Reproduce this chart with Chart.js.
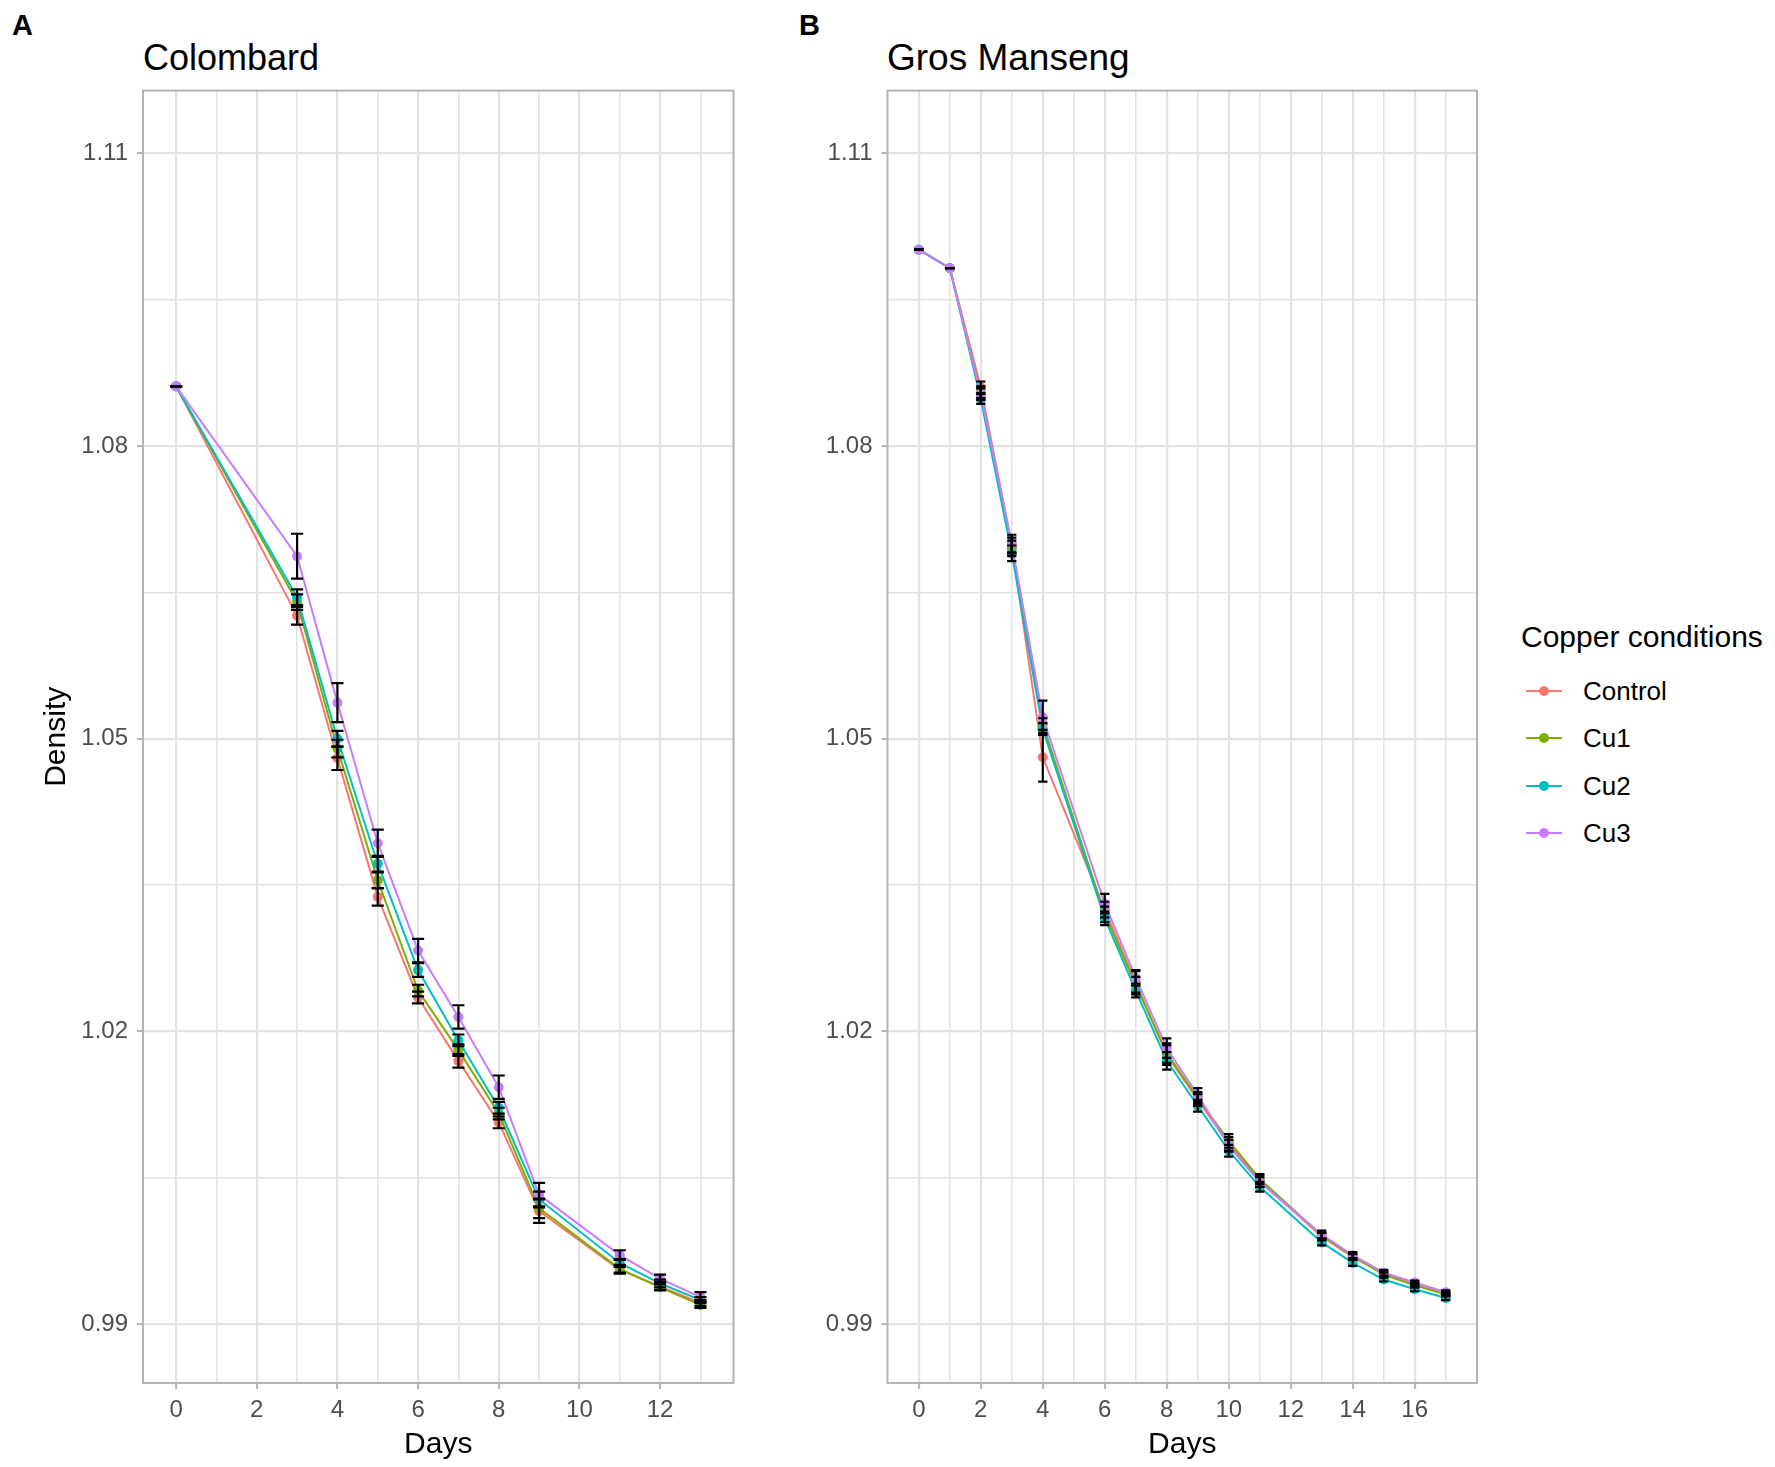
<!DOCTYPE html>
<html>
<head>
<meta charset="utf-8">
<script src="https://cdn.jsdelivr.net/npm/chart.js@4.4.1/dist/chart.umd.min.js"></script>
<style>
  html, body { margin: 0; padding: 0; background: #fff; }
  body { width: 1775px; height: 1467px; position: relative; overflow: hidden;
         font-family: "Liberation Sans", Arial, sans-serif; color: #000; }
  .box { position: absolute; top: 0; height: 1467px; }
  .tag { position: absolute; font-weight: bold; font-size: 29px; line-height: 29px; }
  .ttl { position: absolute; font-size: 36px; line-height: 36px; white-space: nowrap; }
  #legendTitle { position: absolute; left: 1521px; top: 622px; font-size: 30px; line-height: 30px; white-space: nowrap; }
  .item { position: absolute; left: 1526px; height: 40px; display: flex; align-items: center; }
  .sym { position: relative; width: 36px; height: 2px; }
  .dot { position: absolute; left: 13px; top: -4px; width: 10px; height: 10px; border-radius: 50%; }
  .lab { margin-left: 21px; font-size: 26px; line-height: 26px; white-space: nowrap; }
</style>
</head>
<body>
<div class="tag" style="left:12px; top:11px;">A</div>
<div class="tag" style="left:799px; top:11px;">B</div>
<div class="ttl" style="left:143px; top:40px;">Colombard</div>
<div class="ttl" style="left:887px; top:40px; font-size:37px;">Gros Manseng</div>

<div class="box" style="left:0; width:760px;"><canvas id="chartA"></canvas></div>
<div class="box" style="left:760px; width:740px;"><canvas id="chartB"></canvas></div>

<div id="legendTitle">Copper conditions</div>
<div id="legend"></div>

<script>
// series
var seriesNames = ['Control', 'Cu1', 'Cu2', 'Cu3'];
var seriesColors = ['#F8766D', '#7CAE00', '#00BFC4', '#C77CFF'];

// Colombard
var daysA = [0, 3, 4, 5, 6, 7, 8, 9, 11, 12, 13];
var controlA = [1.0861, 1.0626, 1.0480, 1.0338, 1.0235, 1.0170, 1.0107, 1.0016, 0.9956, 0.9939, 0.9922];
var cu1A     = [1.0861, 1.0640, 1.0490, 1.0355, 1.0242, 1.0181, 1.0116, 1.0019, 0.9957, 0.9938, 0.9920];
var cu2A     = [1.0861, 1.0645, 1.0500, 1.0372, 1.0263, 1.0191, 1.0122, 1.0028, 0.9963, 0.9942, 0.9925];
var cu3A     = [1.0861, 1.0687, 1.0537, 1.0393, 1.0283, 1.0215, 1.0143, 1.0033, 0.9971, 0.9947, 0.9928];
var sdControlA = [0, 0.0009, 0.0012, 0.0009, 0.0006, 0.0007, 0.0006, 0.0012, 0.0004, 0.0004, 0.0003];
var sdCu1A     = [0, 0.0008, 0.0009, 0.0008, 0.0006, 0.0006, 0.0006, 0.0010, 0.0004, 0.0003, 0.0003];
var sdCu2A     = [0, 0.0008, 0.0008, 0.0008, 0.0007, 0.0006, 0.0006, 0.0008, 0.0004, 0.0004, 0.0003];
var sdCu3A     = [0, 0.0023, 0.0020, 0.0014, 0.0012, 0.0012, 0.0012, 0.0012, 0.0005, 0.0004, 0.0005];

// Gros Manseng
var daysB = [0, 1, 2, 3, 4, 6, 7, 8, 9, 10, 11, 13, 14, 15, 16, 17];
var controlB = [1.1001, 1.0982, 1.0860, 1.0698, 1.0481, 1.0325, 1.0250, 1.0176, 1.0130, 1.0085, 1.0047, 0.9990, 0.9969, 0.9952, 0.9941, 0.9931];
var cu1B     = [1.1001, 1.0982, 1.0855, 1.0695, 1.0515, 1.0320, 1.0248, 1.0178, 1.0132, 1.0088, 1.0049, 0.9991, 0.9970, 0.9951, 0.9940, 0.9931];
var cu2B     = [1.1001, 1.0982, 1.0848, 1.0690, 1.0510, 1.0316, 1.0242, 1.0170, 1.0124, 1.0078, 1.0041, 0.9984, 0.9963, 0.9946, 0.9936, 0.9927];
var cu3B     = [1.1001, 1.0982, 1.0853, 1.0700, 1.0522, 1.0331, 1.0255, 1.0183, 1.0135, 1.0083, 1.0046, 0.9992, 0.9971, 0.9953, 0.9943, 0.9933];
var sdControlB = [0, 0, 0.0006, 0.0008, 0.0025, 0.0008, 0.0012, 0.0010, 0.0006, 0.0007, 0.0006, 0.0004, 0.0003, 0.0003, 0.0002, 0.0002];
var sdCu1B     = [0, 0, 0.0006, 0.0008, 0.0006, 0.0008, 0.0008, 0.0010, 0.0006, 0.0007, 0.0005, 0.0003, 0.0003, 0.0002, 0.0002, 0.0002];
var sdCu2B     = [0, 0, 0.0005, 0.0008, 0.0006, 0.0007, 0.0007, 0.0009, 0.0006, 0.0006, 0.0005, 0.0003, 0.0003, 0.0002, 0.0002, 0.0002];
var sdCu3B     = [0, 0, 0.0006, 0.0009, 0.0017, 0.0010, 0.0008, 0.0010, 0.0007, 0.0006, 0.0005, 0.0004, 0.0003, 0.0003, 0.0002, 0.0002];

// ticks
var yMajor = [0.99, 1.02, 1.05, 1.08, 1.11];
var yMinor = [1.005, 1.035, 1.065, 1.095];
var xMajorA = [0, 2, 4, 6, 8, 10, 12];
var xMinorA = [1, 3, 5, 7, 9, 11, 13];
var xMajorB = [0, 2, 4, 6, 8, 10, 12, 14, 16];
var xMinorB = [1, 3, 5, 7, 9, 11, 13, 15, 17];

var FONT = '"Liberation Sans", Arial, sans-serif';
var GRID = '#E2E2E2';
var FRAME = '#B3B3B3';

// black error bars, drawn over the points like geom_errorbar
var errorBars = {
  id: 'errorBars',
  afterDatasetsDraw: function(chart, args, opts) {
    var ctx = chart.ctx, x = chart.scales.x, y = chart.scales.y;
    var half = opts.width / 2;
    ctx.save();
    ctx.strokeStyle = '#000';
    ctx.lineWidth = 2.2;
    chart.data.datasets.forEach(function(ds) {
      ds.data.forEach(function(p, j) {
        var sd = ds.sd[j];
        var px = x.getPixelForValue(p.x);
        var l = x.getPixelForValue(p.x - half), r = x.getPixelForValue(p.x + half);
        var lo = y.getPixelForValue(p.y - sd), hi = y.getPixelForValue(p.y + sd);
        ctx.beginPath();
        ctx.moveTo(px, lo); ctx.lineTo(px, hi);
        ctx.moveTo(l, lo); ctx.lineTo(r, lo);
        ctx.moveTo(l, hi); ctx.lineTo(r, hi);
        ctx.stroke();
      });
    });
    ctx.restore();
  }
};

// grey panel border all round
var frame = {
  id: 'frame',
  afterDraw: function(chart) {
    var a = chart.chartArea, ctx = chart.ctx;
    ctx.save();
    ctx.strokeStyle = FRAME;
    ctx.lineWidth = 2;
    ctx.strokeRect(a.left, a.top, a.right - a.left, a.bottom - a.top);
    ctx.restore();
  }
};

function makeDatasets(days, series, sds) {
  return series.map(function(vals, i) {
    return {
      label: seriesNames[i],
      data: days.map(function(d, j) { return {x: d, y: vals[j]}; }),
      sd: sds[i],
      borderColor: seriesColors[i],
      backgroundColor: seriesColors[i],
      borderWidth: 2,
      pointRadius: 5,
      pointBorderWidth: 0,
      pointBackgroundColor: seriesColors[i],
      tension: 0,
      order: series.length - i
    };
  });
}

function gridOpts(minor) {
  return {
    color: GRID,
    lineWidth: function(c) { return c.tick && minor.indexOf(c.tick.value) >= 0 ? 1.6 : 2.2; },
    tickColor: function(c) { return c.tick && minor.indexOf(c.tick.value) >= 0 ? 'rgba(0,0,0,0)' : FRAME; },
    tickLength: 6,
    tickWidth: 2
  };
}

function makeChart(id, days, series, sds, xMin, xMax, xMajor, xMinor, yWidth, padRight, yTitle) {
  return new Chart(document.getElementById(id), {
    type: 'line',
    data: { datasets: makeDatasets(days, series, sds) },
    plugins: [errorBars, frame],
    options: {
      responsive: true,
      maintainAspectRatio: false,
      animation: false,
      layout: { padding: { left: 0, top: 90.6, right: padRight, bottom: 0 } },
      plugins: {
        legend: { display: false },
        tooltip: { enabled: false },
        errorBars: { width: 0.3 }
      },
      scales: {
        x: {
          type: 'linear',
          min: xMin,
          max: xMax,
          afterBuildTicks: function(s) {
            s.ticks = xMajor.concat(xMinor).sort(function(a, b) { return a - b; })
              .map(function(v) { return {value: v}; });
          },
          afterFit: function(s) { s.height = 84; },
          ticks: {
            autoSkip: false,
            maxRotation: 0,
            padding: 7,
            color: '#4D4D4D',
            font: { family: FONT, size: 24 },
            callback: function(v) { return xMajor.indexOf(v) >= 0 ? String(v) : ''; }
          },
          grid: gridOpts(xMinor),
          border: { display: false },
          title: {
            display: true,
            text: 'Days',
            color: '#000',
            font: { family: FONT, size: 30 },
            padding: { top: 0, bottom: 4 }
          }
        },
        y: {
          type: 'linear',
          min: 0.984,
          max: 1.1164,
          afterBuildTicks: function(s) {
            s.ticks = yMajor.concat(yMinor).sort(function(a, b) { return a - b; })
              .map(function(v) { return {value: v}; });
          },
          afterFit: function(s) { s.width = yWidth; },
          ticks: {
            autoSkip: false,
            padding: 9,
            color: '#4D4D4D',
            font: { family: FONT, size: 24 },
            callback: function(v) { return yMajor.indexOf(v) >= 0 ? v.toFixed(2) : ''; }
          },
          grid: gridOpts(yMinor),
          border: { display: false },
          title: {
            display: !!yTitle,
            text: yTitle || '',
            color: '#000',
            font: { family: FONT, size: 30 },
            padding: { top: 39, bottom: 0 }
          }
        }
      }
    }
  });
}

makeChart('chartA', daysA, [controlA, cu1A, cu2A, cu3A], [sdControlA, sdCu1A, sdCu2A, sdCu3A],
  -0.82, 13.82, xMajorA, xMinorA, 143, 26.5, 'Density');
makeChart('chartB', daysB, [controlB, cu1B, cu2B, cu3B], [sdControlB, sdCu1B, sdCu2B, sdCu3B],
  -1.01, 18.01, xMajorB, xMinorB, 127.5, 23, null);

// legend
var legend = document.getElementById('legend');
seriesNames.forEach(function(name, i) {
  var item = document.createElement('div');
  item.className = 'item';
  item.style.top = (690.5 + i * 47.5 - 20) + 'px';
  item.innerHTML = '<div class="sym" style="background:' + seriesColors[i] + '">' +
    '<div class="dot" style="background:' + seriesColors[i] + '"></div></div>' +
    '<span class="lab">' + name + '</span>';
  legend.appendChild(item);
});
</script>
</body>
</html>
